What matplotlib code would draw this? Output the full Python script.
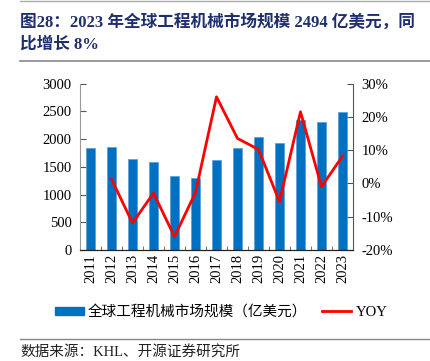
import matplotlib
matplotlib.use("Agg")
import matplotlib.pyplot as plt
import numpy as np
from matplotlib.patches import Patch
from matplotlib.lines import Line2D

years = ["2011", "2012", "2013", "2014", "2015", "2016", "2017", "2018", "2019", "2020", "2021", "2022", "2023"]
market = [1832, 1855, 1634, 1586, 1333, 1297, 1621, 1844, 2030, 1922, 2335, 2306, 2494]
yoy_years = years[1:]
yoy = [1.3, -11.9, -2.9, -16.0, -2.7, 26.0, 13.5, 10.2, -5.5, 21.5, -1.0, 8.2]

title = "图28：2023 年全球工程机械市场规模 2494 亿美元，同\n比增长 8%"
bar_label = "全球工程机械市场规模（亿美元）"
line_label = "YOY"
source = "数据来源：KHL、开源证券研究所"

serif = ["Liberation Serif", "Noto Sans CJK SC"]
cjk = ["Liberation Serif", "Noto Sans CJK SC"]

fig = plt.figure(figsize=(4.30, 3.61), dpi=100)
W, H = 430, 361
ax = fig.add_axes([80 / W, 1 - 250 / H, (353 - 80) / W, (250 - 83.5) / H])
ax2 = ax.twinx()

x = np.arange(len(years))
ax.bar(x, market, width=0.42, color="#0070C0", edgecolor="#5BA3DA", linewidth=0.6, zorder=2)
ax.set_ylim(0, 3000)
ax.set_yticks(np.arange(0, 3001, 500))
ax.set_xlim(-0.5, len(years) - 0.5)
ax.set_xticks(x)
ax.set_xticklabels(years, rotation=90, family=serif, fontsize=10.5)
ax.set_xticks(np.arange(0.5, len(years) - 0.5, 1), minor=True)
ax.tick_params(axis="x", which="major", length=0, pad=3)
ax.tick_params(axis="x", which="minor", direction="in", length=3, color="#555555")
ax.tick_params(axis="y", direction="in", length=4, color="#555555", labelsize=10.5, pad=6)
for lab in ax.get_yticklabels():
    lab.set_family(serif)

xi = np.array([years.index(y) for y in yoy_years])
ax2.plot(xi, yoy, color="#FF0000", linewidth=2, zorder=3)
ax2.set_ylim(-20, 30)
ax2.set_yticks(np.arange(-20, 31, 10))
ax2.set_yticklabels([f"{v}%" for v in range(-20, 31, 10)], family=serif, fontsize=10.5)
ax2.tick_params(axis="y", direction="in", length=4, color="#555555", pad=6)

for a in (ax, ax2):
    a.spines["top"].set_visible(False)
    a.spines["left"].set_color("#999999")
    a.spines["right"].set_color("#555555")
    a.spines["bottom"].set_color("#222222")
ax2.spines["left"].set_visible(False)
ax.spines["right"].set_visible(False)

handles = [Patch(facecolor="#0070C0", edgecolor="#0070C0"),
           Line2D([0], [0], color="#FF0000", linewidth=2)]
fig.legend(handles, [bar_label, line_label], loc="center", bbox_to_anchor=(221 / W, 1 - 312 / H),
           ncol=2, frameon=False, prop={"family": cjk, "size": 10.5},
           handlelength=2.0, handleheight=0.5, columnspacing=1.0, handletextpad=0.3)

fig.text(20 / W, 1 - 14 / H, title, family=["Liberation Serif", "Noto Sans CJK SC"],
         fontweight="bold", fontsize=12, color="#1F2E6E", va="top", linespacing=1.5,
         transform=fig.transFigure)
fig.add_artist(Line2D([20 / W, 1], [1 - 61 / H, 1 - 61 / H], color="#888888", linewidth=1.2,
                      transform=fig.transFigure))
fig.add_artist(Line2D([20 / W, 1], [1 - 1 / H, 1 - 1 / H], color="#AAAAAA", linewidth=1,
                      transform=fig.transFigure))
fig.add_artist(Line2D([20 / W, 1], [1 - 339 / H, 1 - 339 / H], color="#888888", linewidth=1,
                      transform=fig.transFigure))
fig.text(20 / W, 1 - 352 / H, source, family=cjk, fontsize=10.5, color="#222222", va="center")

fig.savefig("out.png", dpi=100)
